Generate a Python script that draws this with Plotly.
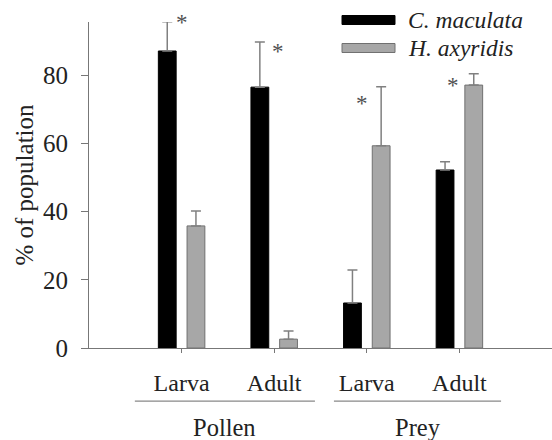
import plotly.graph_objects as go

positions = [0, 1, 2, 3]
tick_labels = ["Larva", "Adult", "Larva", "Adult"]
group_labels = ["Pollen", "Prey"]
series_names = ["C. maculata", "H. axyridis"]
c_mac = [87.1, 76.5, 13.2, 52.2]
c_mac_err = [8.6, 13.2, 9.7, 2.4]
h_axy = [35.8, 2.6, 59.3, 77.1]
h_axy_err = [4.4, 2.4, 17.3, 3.3]
star_x = [0.0, 1.04, 1.95, 2.93]
star_y = [96.4, 87.7, 72.7, 78.0]

FONT = "Liberation Serif"
AX = "#777777"
YMAX = 95.6

fig = go.Figure()
fig.add_trace(go.Bar(
    x=positions, y=c_mac, name=series_names[0],
    marker=dict(color="black", line=dict(color="black", width=1)),
    error_y=dict(type="data", array=c_mac_err, arrayminus=[0]*4, color="#808080", thickness=1.5, width=5),
    showlegend=False, cliponaxis=False,
))
fig.add_trace(go.Bar(
    x=positions, y=h_axy, name=series_names[1],
    marker=dict(color="#a7a7a7", line=dict(color="#707070", width=1)),
    error_y=dict(type="data", array=h_axy_err, arrayminus=[0]*4, color="#808080", thickness=1.5, width=5),
    showlegend=False, cliponaxis=False,
))

for xs, ys in zip(star_x, star_y):
    fig.add_annotation(x=xs, y=ys / YMAX, xref="x", yref="paper", text="*", showarrow=False,
                       yanchor="middle", yshift=-3,
                       font=dict(family=FONT, size=23, color="#505050"))

# group underlines and labels
groups = [(-0.505, 1.44), (1.645, 3.45)]
for (x0, x1), lab in zip(groups, group_labels):
    fig.add_shape(type="line", xref="x", yref="paper", x0=x0, x1=x1, y0=-0.163, y1=-0.163,
                  line=dict(color="#888888", width=1.2))
    fig.add_annotation(x=(x0 + x1) / 2, y=-0.245, xref="x", yref="paper", text=lab,
                       showarrow=False, yanchor="middle",
                       font=dict(family=FONT, size=24.5, color="#222222"))

# legend
leg_colors = [("black", "black"), ("#a7a7a7", "#707070")]
leg_y = [(348 - 20) / 326, (348 - 48) / 326]
for (fc, lc), yy, name in zip(leg_colors, leg_y, series_names):
    fig.add_shape(type="rect", xref="paper", yref="paper",
                  x0=(342 - 89) / 463, x1=(395 - 89) / 463, y0=yy - 0.0138, y1=yy + 0.0138,
                  fillcolor=fc, line=dict(color=lc, width=1))
    fig.add_annotation(xref="paper", yref="paper", x=(406 - 89) / 463, y=yy, xanchor="left",
                       yanchor="middle", text="<i>" + name + "</i>", showarrow=False,
                       font=dict(family=FONT, size=23.5, color="#222222"))

fig.update_layout(
    width=552, height=440,
    margin=dict(l=89, r=0, t=22, b=92),
    paper_bgcolor="white", plot_bgcolor="white",
    barmode="group", bargap=0.38, bargroupgap=0.38,
    font=dict(family=FONT, color="#222222"),
    xaxis=dict(range=[-1, 4], tickvals=positions, ticktext=tick_labels,
               showline=True, linecolor=AX, linewidth=1.2, ticks="outside", ticklen=4,
               tickcolor=AX, showgrid=False, zeroline=False, ticklabelstandoff=9,
               tickfont=dict(family=FONT, size=24, color="#222222")),
    yaxis=dict(range=[0, YMAX], tickvals=[0, 20, 40, 60, 80], showline=True, linecolor=AX,
               linewidth=1.2, ticks="outside", ticklen=7, tickcolor=AX, showgrid=False,
               zeroline=False, ticklabelstandoff=8,
               tickfont=dict(family=FONT, size=25, color="#222222"),
               title=dict(text="% of population", font=dict(family=FONT, size=25, color="#222222"),
                          standoff=2)),
)

fig.write_html("out.html")
